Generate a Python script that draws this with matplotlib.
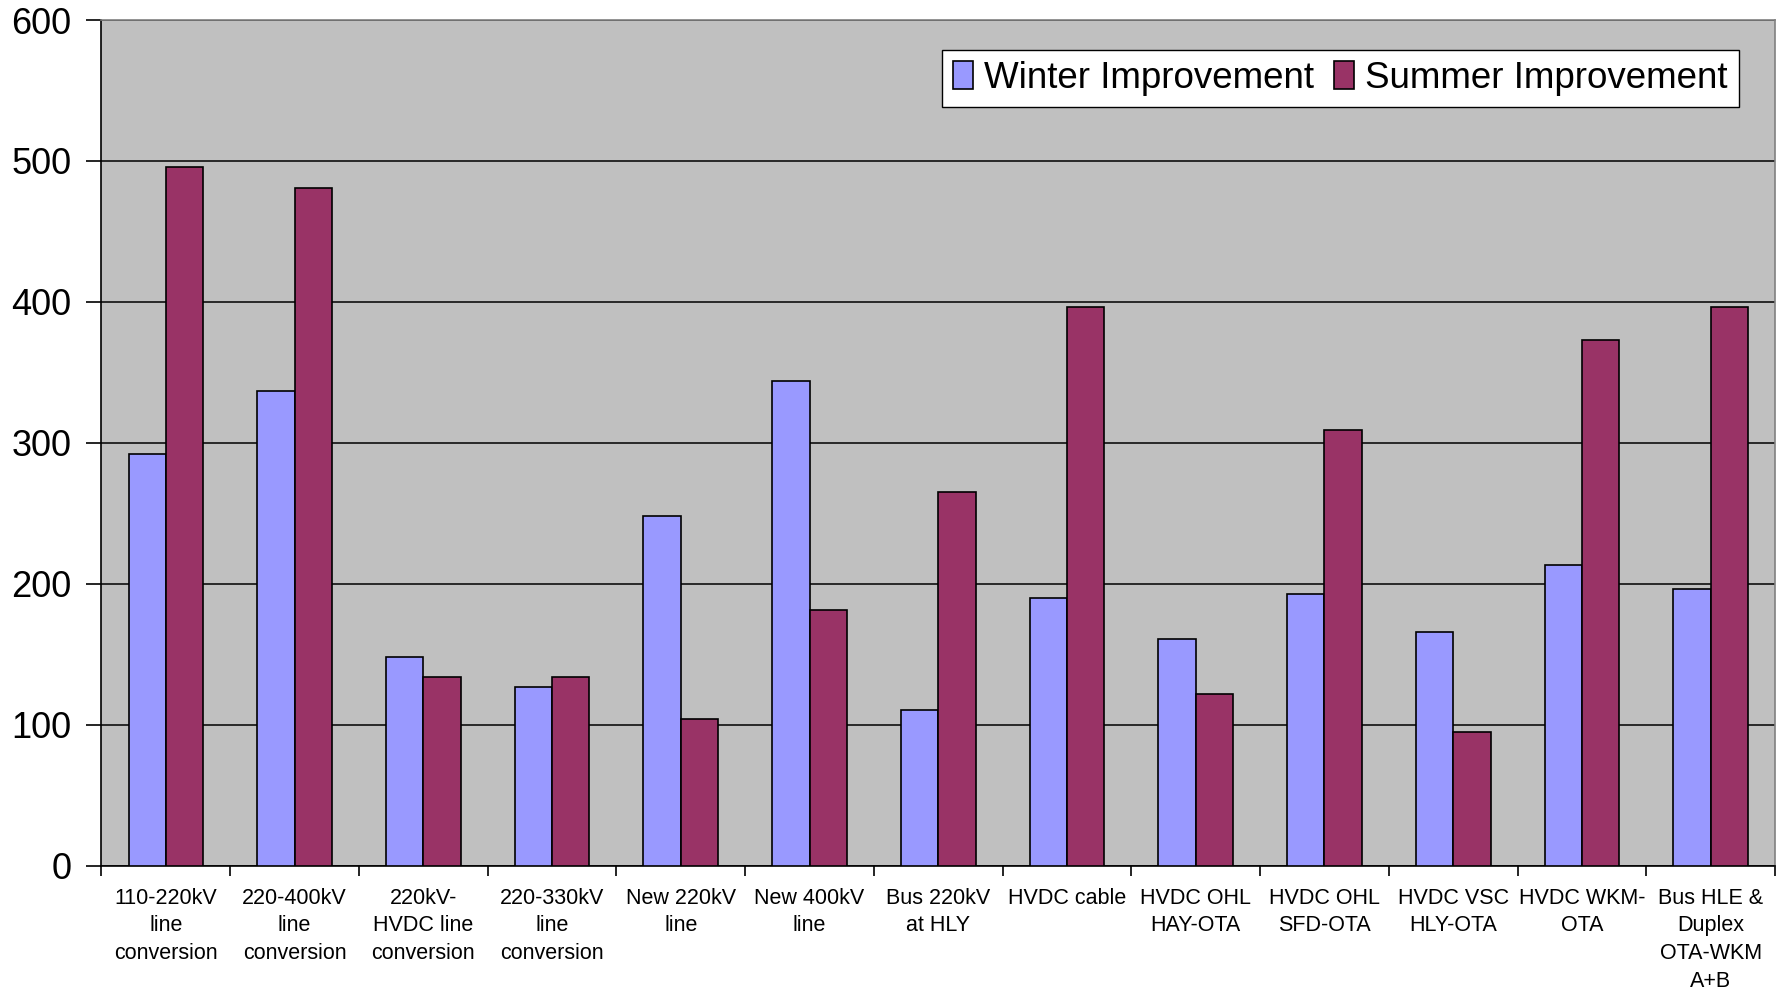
import numpy as np
import matplotlib.pyplot as plt

# projects along the x axis
projects = [
    "110-220kV\nline\nconversion",
    "220-400kV\nline\nconversion",
    "220kV-\nHVDC line\nconversion",
    "220-330kV\nline\nconversion",
    "New 220kV\nline",
    "New 400kV\nline",
    "Bus 220kV\nat HLY",
    "HVDC cable",
    "HVDC OHL\nHAY-OTA",
    "HVDC OHL\nSFD-OTA",
    "HVDC VSC\nHLY-OTA",
    "HVDC WKM-\nOTA",
    "Bus HLE &\nDuplex\nOTA-WKM\nA+B",
]
winter = [292, 337, 148, 127, 248, 344, 110, 190, 161, 193, 166, 213, 196]
summer = [496, 481, 134, 134, 104, 181, 265, 396, 122, 309, 95, 373, 396]
yticks = [0, 100, 200, 300, 400, 500, 600]

plt.rcParams['font.family'] = ['Liberation Sans', 'DejaVu Sans']

fig = plt.figure(figsize=(17.81, 9.90), dpi=100)
ax = fig.add_axes([101.5 / 1781, 1 - 865.5 / 990, (1775 - 101.5) / 1781, (865.5 - 20) / 990])
ax.set_facecolor("#C0C0C0")

x = np.arange(len(projects))
w = 0.29
ax.bar(x - w / 2, winter, w, color="#9999FF", edgecolor="black", linewidth=1.2,
       label="Winter Improvement", zorder=3)
ax.bar(x + w / 2, summer, w, color="#993366", edgecolor="black", linewidth=1.2,
       label="Summer Improvement", zorder=3)

ax.set_xlim(-0.5, len(projects) - 0.5)
ax.set_ylim(0, 600)
ax.set_yticks(yticks)
ax.tick_params(axis="y", labelsize=26, length=11, width=1.2, pad=10.5)
ax.yaxis.grid(True, color="black", linewidth=1.1, zorder=1)
ax.set_axisbelow(True)

# category labels centred, ticks at the boundaries
ax.set_xticks(x)
ax.set_xticklabels(projects, fontsize=15.5, linespacing=1.42)
ax.tick_params(axis="x", length=0, pad=16)
ax.set_xticks(np.arange(len(projects) + 1) - 0.5, minor=True)
ax.tick_params(axis="x", which="minor", length=7, width=1.2)

for s in ["left", "bottom"]:
    ax.spines[s].set_color("black")
    ax.spines[s].set_linewidth(1.2)
for s in ["top", "right"]:
    ax.spines[s].set_color("#808080")
    ax.spines[s].set_linewidth(1.2)

leg = ax.legend(loc="upper right", bbox_to_anchor=(1739 / 1781, 1 - 50 / 990),
                bbox_transform=fig.transFigure, ncol=2, fontsize=26.5,
                frameon=True, fancybox=False, framealpha=1, edgecolor="black",
                borderpad=0.3, handlelength=0.55, handleheight=0.8,
                handletextpad=0.3, columnspacing=0.55, borderaxespad=0)
leg.get_frame().set_linewidth(1.0)

fig.savefig("out.png", dpi=100)
